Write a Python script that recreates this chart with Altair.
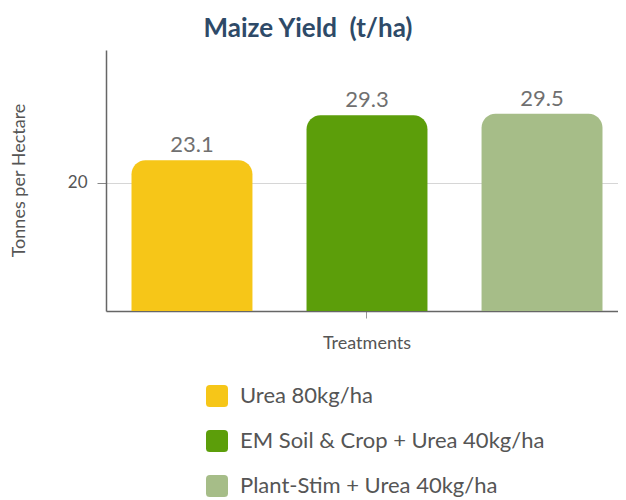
import altair as alt
import pandas as pd

treatments = ["Urea 80kg/ha", "EM Soil & Crop + Urea 40kg/ha", "Plant-Stim + Urea 40kg/ha"]
yields = [23.1, 29.3, 29.5]
colors = ["#F6C618", "#5C9E0A", "#A6BD88"]
group = "Treatments"
y_ticks = [20]
y_min, y_max = 2.3, 38.3

df = pd.DataFrame({"group": [group] * len(treatments), "treatment": treatments, "yield": yields})

rounded = "M-0.65,-1 H0.65 Q1,-1 1,-0.65 V0.65 Q1,1 0.65,1 H-0.65 Q-1,1 -1,0.65 V-0.65 Q-1,-1 -0.65,-1 Z"

x_enc = alt.X("group:N", title=None,
              scale=alt.Scale(paddingInner=0, paddingOuter=0.00996, align=1),
              axis=alt.Axis(labelAngle=0, labelFont="Lato", labelFontSize=18, labelColor="#555",
                            labelPadding=16, tickSize=7, tickColor="#999", domainColor="#666",
                            domainWidth=1.5, grid=False))
xoff = alt.XOffset("treatment:N", sort=treatments,
                   scale=alt.Scale(paddingInner=0.309, paddingOuter=0.0886, align=0.5))
y_enc = alt.Y("yield:Q", title="Tonnes per Hectare",
              scale=alt.Scale(domain=[y_min, y_max], zero=False, nice=False),
              axis=alt.Axis(values=y_ticks, labelFont="Lato", labelFontSize=17, labelColor="#555",
                            labelPadding=10, tickSize=9, tickColor="#888", domainColor="#666",
                            domainWidth=1.5, gridColor="#d6d6d6", gridWidth=1,
                            titleFont="Lato", titleFontSize=18, titleFontWeight="normal",
                            titleColor="#555", titleX=-87, titleY=130, titleBaseline="middle"))
color_enc = alt.Color("treatment:N", sort=treatments,
                      scale=alt.Scale(domain=treatments, range=colors),
                      legend=alt.Legend(title=None, orient="none", legendX=100, legendY=335,
                                        direction="vertical", symbolType=rounded, symbolSize=484,
                                        symbolStrokeWidth=0, symbolOpacity=1, labelFont="Lato",
                                        labelFontSize=22, labelColor="#555", labelOffset=12,
                                        rowPadding=23, padding=0, labelLimit=500))

bars = alt.Chart(df).mark_bar(cornerRadiusTopLeft=14, cornerRadiusTopRight=14).encode(
    x=x_enc, xOffset=xoff, y=y_enc, y2=alt.Y2(datum=y_min), color=color_enc
)
labels = alt.Chart(df).mark_text(font="Lato", fontSize=22, color="#707070", baseline="alphabetic",
                                 dy=-8).encode(
    x=alt.X("group:N"), xOffset=alt.XOffset("treatment:N", sort=treatments),
    y=alt.Y("yield:Q"), text=alt.Text("yield:Q", format=".1f")
)

chart = (bars + labels).properties(
    width=512, height=261,
    autosize=alt.AutoSizeParams(type="none"),
    padding={"left": 98, "top": 42, "right": 0, "bottom": 187},
    title=alt.TitleParams("Maize Yield\u00a0 (t/ha)", font="Lato", fontSize=26, fontWeight="bold",
                          color="#2E4A68", anchor="middle", frame="group", dx=-54, offset=8),
).configure_view(stroke=None)

chart.save("out.html", embed_options={"renderer": "svg", "actions": False})
